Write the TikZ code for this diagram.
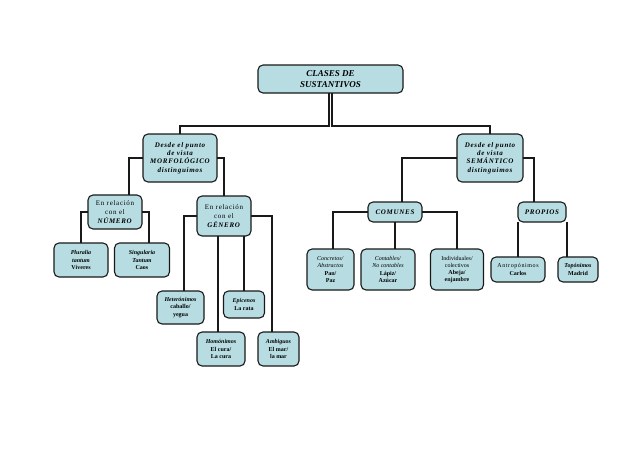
\documentclass[tikz,border=0pt]{standalone}
\usepackage{fontspec}
\setmainfont{Liberation Serif}
\newfontfamily\spacedfont[LetterSpace=10]{Liberation Serif}
\usepackage{tikz}

\begin{document}
\begin{tikzpicture}[x=1pt,y=1pt,yscale=-1,xscale=1,
  box/.style={draw={rgb,255:red,25;green,25;blue,25},line width=1.1pt,
    fill={rgb,255:red,183;green,221;blue,227},rounded corners=5pt,
    inner sep=0.75pt,outer sep=0pt,align=center},
  headfont/.style={font=\spacedfont\fontsize{7}{8.3}\selectfont\bfseries\itshape},
  smallfont/.style={font=\fontsize{6}{7.2}\selectfont},
  link/.style={draw={rgb,255:red,25;green,25;blue,25},line width=1.8pt}]
\useasboundingbox (0,0) rectangle (638,451);

%Rounded Rect: top
\node (root) at (330.5,79) [box,minimum width=145pt,minimum height=28pt,
  font=\fontsize{9}{10.5}\selectfont\bfseries\itshape] {CLASES DE\\SUSTANTIVOS};

%Rounded Rect: second row
\node (morfo) at (180,158) [box,headfont,minimum width=74pt,minimum height=48pt]
  {Desde el punto\\de vista\\MORFOLÓGICO\\distinguimos};
\node (sema) at (490,158) [box,headfont,minimum width=66pt,minimum height=48pt]
  {Desde el punto\\de vista\\SEMÁNTICO\\distinguimos};

%Rounded Rect: third row
\node (numero) at (115,212) [box,minimum width=54pt,minimum height=34pt,
  font=\spacedfont\fontsize{7}{8.7}\selectfont] {En relación\\con el\\\textbf{\textit{NÚMERO}}};
\node (genero) at (224,216) [box,minimum width=54pt,minimum height=40pt,
  font=\spacedfont\fontsize{7}{8.7}\selectfont] {En relación\\con el\\\textbf{\textit{GÉNERO}}};
\node (comunes) at (395,212) [box,headfont,minimum width=54pt,minimum height=20pt] {COMUNES};
\node (propios) at (542,212) [box,headfont,minimum width=48pt,minimum height=20pt] {PROPIOS};

%Rounded Rect: NUMERO
\node (pluralia) at (81,260) [box,smallfont,minimum width=54pt,minimum height=34pt]
  {\textbf{\textit{Pluralia}}\\\textbf{\textit{tantum}}\\\textbf{Víveres}};
\node (singularia) at (142,260) [box,smallfont,minimum width=55pt,minimum height=34pt]
  {\textbf{\textit{Singularia}}\\\textbf{\textit{Tantum}}\\\textbf{Caos}};

%Rounded Rect: GENERO
\node (hetero) at (180.5,307.5) [box,smallfont,minimum width=47pt,minimum height=33pt]
  {\textbf{\textit{Heterónimos}}\\\textbf{caballo/}\\\textbf{yegua}};
\node (epicenos) at (244,304.5) [box,smallfont,minimum width=41pt,minimum height=27pt]
  {\textbf{\textit{Epicenos}}\\\textbf{La rata}};
\node (homo) at (221,349) [box,smallfont,minimum width=48pt,minimum height=34pt]
  {\textbf{\textit{Homónimos}}\\\textbf{El cura/}\\\textbf{La cura}};
\node (ambiguos) at (278.5,349) [box,smallfont,minimum width=41pt,minimum height=34pt]
  {\textbf{\textit{Ambiguos}}\\\textbf{El mar/}\\\textbf{la mar}};

%Rounded Rect: COMUNES
\node (concretos) at (330.5,269.5) [box,smallfont,minimum width=47pt,minimum height=41pt]
  {\textit{Concretos/}\\\textit{Abstractos}\\\textbf{Pan/}\\\textbf{Paz}};
\node (contables) at (388,269.5) [box,smallfont,minimum width=54pt,minimum height=41pt]
  {\textit{Contables/}\\\textit{No contables}\\\textbf{Lápiz/}\\\textbf{Azúcar}};
\node (individuales) at (457,269.5) [box,smallfont,minimum width=53pt,minimum height=41pt]
  {Individuales/\\colectivos\\\textbf{Abeja/}\\\textbf{enjambre}};

%Rounded Rect: PROPIOS
\node (antropo) at (518,269.5) [box,smallfont,minimum width=54pt,minimum height=25pt]
  {{\spacedfont Antropónimos}\\\textbf{Carlos}};
\node (topo) at (578,269.5) [box,smallfont,minimum width=40pt,minimum height=25pt]
  {\textbf{\textit{Topónimos}}\\\textbf{Madrid}};

%Elbow Connectors
\draw [link] ([xshift=-1.5pt]root.south) -- ++(0,33) -| (morfo.north);
\draw [link] ([xshift=1.5pt]root.south) -- ++(0,33) -| (sema.north);
\draw [link] (morfo.west) -| ([xshift=14pt]numero.north);
\draw [link] (morfo.east) -| (genero.north);
\draw [link] (numero.west) -| (pluralia.north);
\draw [link] (numero.east) -| ([xshift=7pt]singularia.north);
\draw [link] (genero.west) -| ([xshift=3.5pt]hetero.north);
\draw [link] ([xshift=-3pt]homo.north |- genero.south) -- ([xshift=-3pt]homo.north);
\draw [link] (epicenos.north |- genero.south) -- (epicenos.north);
\draw [link] (genero.east) -| ([xshift=-6.5pt]ambiguos.north);
\draw [link] (sema.west) -| ([xshift=7pt]comunes.north);
\draw [link] (sema.east) -| ([xshift=-8pt]propios.north);
\draw [link] (comunes.west) -| ([xshift=2.5pt]concretos.north);
\draw [link] (comunes.south) -- (comunes.south |- contables.north);
\draw [link] (comunes.east) -| (individuales.north);
\draw [link] (antropo.north |- propios.south) -- (antropo.north);
\draw [link] ([xshift=-11pt]topo.north |- propios.south) -- ([xshift=-11pt]topo.north);

\end{tikzpicture}
\end{document}
